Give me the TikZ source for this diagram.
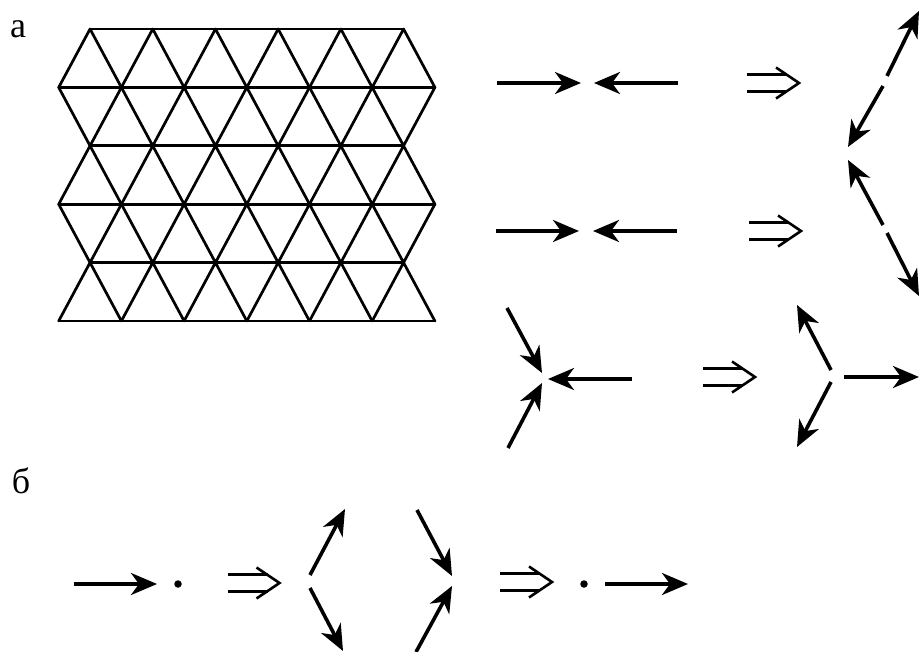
\documentclass[tikz,border=0pt]{standalone}
\usepackage{fontspec}
\setmainfont{Liberation Serif}
\usetikzlibrary{arrows.meta}
\begin{document}
\begin{tikzpicture}[x=1pt,y=-1pt,
  lat/.style={line width=2.7pt, line cap=round, line join=round},
  vec/.style={line width=3.6pt, -{Stealth[length=26pt,width=22pt,inset=8pt]}},
  impl/.style={line width=2.2pt},
  dot/.style={circle, fill, inner sep=0pt, minimum size=7.5pt},
  lbl/.style={font=\fontsize{36}{40}\selectfont, inner sep=0pt},
  implies/.pic={
    \draw[impl] (-26,-8.5) -- (14,-8.5) (-26,8.5) -- (14,8.5);
    \draw[impl, line width=2.6pt] (3,-15.5) -- (26,0) -- (3,15.5);
  }]
\useasboundingbox (0,0) rectangle (921,652);
% labels
\node[lbl] (la) at (18,29) {а};
\node[lbl] (lb) at (21,481) {б};
% lattice
\def\ha{31.35}\def\hh{58.4}\def\xo{58.7}\def\yo{29}
\foreach \r in {0,2,4}{
  \draw[lat] (\xo+\ha,\yo+\hh*\r) -- (\xo+11*\ha,\yo+\hh*\r);
}
\foreach \r in {1,3,5}{
  \draw[lat] (\xo,\yo+\hh*\r) -- (\xo+12*\ha,\yo+\hh*\r);
}
\foreach \r in {0,2,4}{
  \foreach \k in {1,3,...,11}{
    \draw[lat] (\xo+\ha*\k-\ha,\yo+\hh*\r+\hh) -- (\xo+\ha*\k,\yo+\hh*\r) -- (\xo+\ha*\k+\ha,\yo+\hh*\r+\hh);
    \ifnum\r>0
      \draw[lat] (\xo+\ha*\k-\ha,\yo+\hh*\r-\hh) -- (\xo+\ha*\k,\yo+\hh*\r) -- (\xo+\ha*\k+\ha,\yo+\hh*\r-\hh);
    \fi
  }
}
% vectors
\foreach \n/\xa/\ya/\xb/\yb in {
  a1/497/83/581/83, a2/678/83/594/83,
  b1/496/231/579/231, b2/677/231/593/231,
  z1/887/76/919/11, z2/883/86/848/147, z3/883/225/848/160, z4/887/233/919/296,
  c1/507/308/542/373, c2/508/448/542/383, c3/632/379/548/379,
  d1/831/370/797/305, d2/831/382/797/447, d3/844/377/919/377,
  e1/74/584/157/584,
  f1/310/575/345/509, f2/310/588/343/651,
  g1/417/510/452/576, g2/416/652/452/586,
  h1/605/584/688/584}{
  \coordinate (\n s) at (\xa,\ya);
  \coordinate (\n e) at (\xb,\yb);
  \draw[vec] (\n s) -- (\n e);
}
% dots
\node[dot] (p1) at (178,584) {};
\node[dot] (p2) at (584,584) {};
% implication signs
\pic at (773,83) {implies};
\pic at (775,231) {implies};
\pic at (729,377) {implies};
\pic at (253.5,583) {implies};
\pic at (526,582) {implies};
\end{tikzpicture}
\end{document}
